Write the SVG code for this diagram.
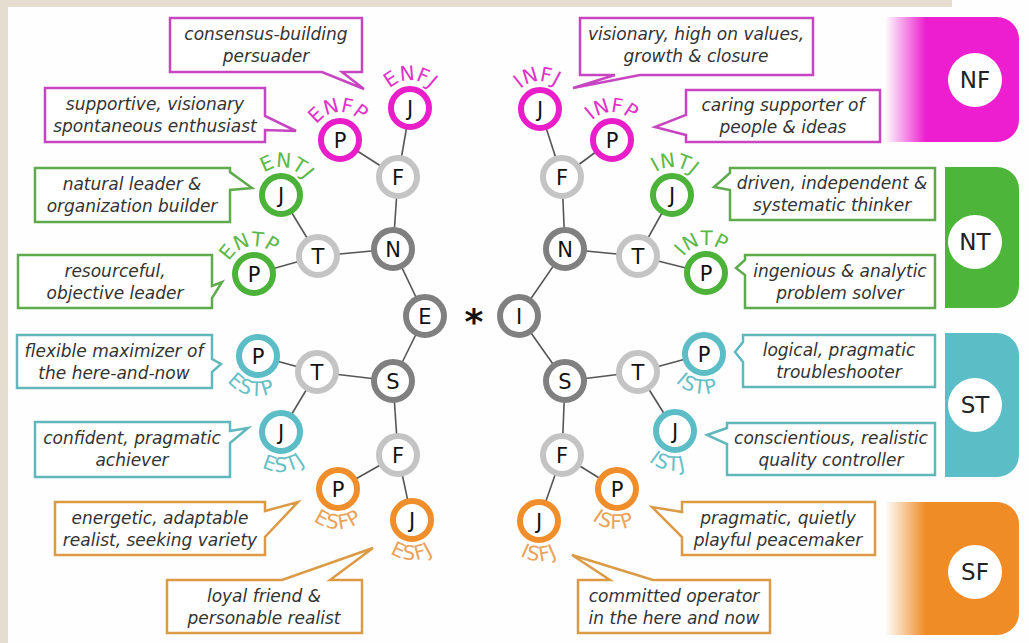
<svg xmlns="http://www.w3.org/2000/svg" xmlns:xlink="http://www.w3.org/1999/xlink" width="1029" height="643" viewBox="0 0 1029 643">
<style>
.bg{fill:#fefefe}
.strip{fill:#e4ddd0}
.link{stroke:#555;stroke-width:1.6;fill:none}
.nd{fill:#fff;stroke-width:6}
.dk{stroke:#808080}.lt{stroke:#c4c4c4}
.mg{stroke:#e91ec8}.gn{stroke:#4cb23a}.tl{stroke:#5cbdc6}.or{stroke:#ef8e2a}
.lt-txt{font-family:"DejaVu Sans",sans-serif;font-size:21px;fill:#111;text-anchor:middle}
.co{fill:#fff;stroke-width:2.5}
.cmg{stroke:#c845c2}.cgn{stroke:#5eaa4c}.ctl{stroke:#60b8bd}.cor{stroke:#dc9a45}
.ct{font-family:"DejaVu Sans",sans-serif;font-style:italic;font-size:17px;fill:#333;text-anchor:middle}
.lab{font-family:"DejaVu Sans",sans-serif;font-size:20px;text-anchor:middle}
.lab.bot{letter-spacing:1px}
.lmg{fill:#e033c8}.lgn{fill:#5cb848}.ltl{fill:#66c0c6}.lor{fill:#eaa25a}
.bt{font-family:"DejaVu Sans",sans-serif;font-size:23px;fill:#222;text-anchor:middle}
</style>
<defs>
<linearGradient id="gNF" gradientUnits="userSpaceOnUse" x1="885" y1="0" x2="926" y2="0"><stop offset="0" stop-color="#ec1ecf" stop-opacity="0"/><stop offset="1" stop-color="#ec1ecf"/></linearGradient>
<linearGradient id="gSF" gradientUnits="userSpaceOnUse" x1="885" y1="0" x2="926" y2="0"><stop offset="0" stop-color="#f08c25" stop-opacity="0"/><stop offset="1" stop-color="#f08c25"/></linearGradient>
<path id="aENFJ" d="M383,100.8 A28 28 0 0 1 437,100.8"/>
<path id="aENFP" d="M313,132.8 A28 28 0 0 1 367,132.8"/>
<path id="aENTJ" d="M254,187.8 A28 28 0 0 1 308,187.8"/>
<path id="aENTP" d="M227,266.8 A28 28 0 0 1 281,266.8"/>
<path id="aINFJ" d="M513,101.8 A28 28 0 0 1 567,101.8"/>
<path id="aINFP" d="M585,132.8 A28 28 0 0 1 639,132.8"/>
<path id="aINTJ" d="M645,187.8 A28 28 0 0 1 699,187.8"/>
<path id="aINTP" d="M679,265.8 A28 28 0 0 1 733,265.8"/>
<path id="aESTP" d="M219.4,366.4 A40 40 0 0 0 296.6,366.4"/>
<path id="aESTJ" d="M242.4,442.4 A40 40 0 0 0 319.6,442.4"/>
<path id="aESFP" d="M299.4,499.4 A40 40 0 0 0 376.6,499.4"/>
<path id="aESFJ" d="M373.4,530.4 A40 40 0 0 0 450.6,530.4"/>
<path id="aISTP" d="M665.4,364.4 A40 40 0 0 0 742.6,364.4"/>
<path id="aISTJ" d="M636.4,441.4 A40 40 0 0 0 713.6,441.4"/>
<path id="aISFP" d="M578.4,499.4 A40 40 0 0 0 655.6,499.4"/>
<path id="aISFJ" d="M500.4,531.4 A40 40 0 0 0 577.6,531.4"/>
</defs>
<rect class="bg" x="0" y="0" width="1029" height="643"/>
<rect class="strip" x="0" y="0" width="952" height="7"/>
<rect class="strip" x="0" y="0" width="8" height="643"/>

<g id="bars">
<g id="bar-NF"><path d="M885,17 H997 A22 22 0 0 1 1019,39 V120 A22 22 0 0 1 997,142 H885 Z" fill="url(#gNF)"/><circle cx="975" cy="80" r="27" fill="#fff"/><text class="bt" x="975" y="88">NF</text></g>
<g id="bar-NT"><path d="M945,167 H997 A22 22 0 0 1 1019,189 V286 A22 22 0 0 1 997,308 H945 Z" fill="#4cb53a"/><circle cx="975" cy="242" r="27" fill="#fff"/><text class="bt" x="975" y="250">NT</text></g>
<g id="bar-ST"><path d="M945,333 H997 A22 22 0 0 1 1019,355 V455 A22 22 0 0 1 997,477 H945 Z" fill="#5bbdc6"/><circle cx="975" cy="405" r="27" fill="#fff"/><text class="bt" x="975" y="413">ST</text></g>
<g id="bar-SF"><path d="M885,502 H997 A22 22 0 0 1 1019,524 V613 A22 22 0 0 1 997,635 H885 Z" fill="url(#gSF)"/><circle cx="975" cy="572" r="27" fill="#fff"/><text class="bt" x="975" y="580">SF</text></g>
</g>

<g id="connectors">
<line class="link" x1="425" y1="316" x2="393" y2="249"/>
<line class="link" x1="393" y1="249" x2="398" y2="177"/>
<line class="link" x1="398" y1="177" x2="340" y2="140"/>
<line class="link" x1="398" y1="177" x2="410" y2="108"/>
<line class="link" x1="393" y1="249" x2="318" y2="256"/>
<line class="link" x1="318" y1="256" x2="281" y2="195"/>
<line class="link" x1="318" y1="256" x2="254" y2="274"/>
<line class="link" x1="425" y1="316" x2="393" y2="381"/>
<line class="link" x1="393" y1="381" x2="317" y2="372"/>
<line class="link" x1="317" y1="372" x2="258" y2="356"/>
<line class="link" x1="317" y1="372" x2="281" y2="432"/>
<line class="link" x1="393" y1="381" x2="398" y2="455"/>
<line class="link" x1="398" y1="455" x2="338" y2="489"/>
<line class="link" x1="398" y1="455" x2="412" y2="520"/>
<line class="link" x1="519" y1="316" x2="565" y2="249"/>
<line class="link" x1="565" y1="249" x2="562" y2="177"/>
<line class="link" x1="562" y1="177" x2="540" y2="109"/>
<line class="link" x1="562" y1="177" x2="612" y2="140"/>
<line class="link" x1="565" y1="249" x2="638" y2="256"/>
<line class="link" x1="638" y1="256" x2="672" y2="195"/>
<line class="link" x1="638" y1="256" x2="706" y2="273"/>
<line class="link" x1="519" y1="316" x2="565" y2="381"/>
<line class="link" x1="565" y1="381" x2="638" y2="372"/>
<line class="link" x1="638" y1="372" x2="704" y2="354"/>
<line class="link" x1="638" y1="372" x2="675" y2="431"/>
<line class="link" x1="565" y1="381" x2="562" y2="455"/>
<line class="link" x1="562" y1="455" x2="617" y2="489"/>
<line class="link" x1="562" y1="455" x2="539" y2="521"/>
</g>

<g id="center-star"><text x="474" y="334" font-family="DejaVu Sans,sans-serif" font-size="36" font-weight="bold" fill="#111" text-anchor="middle">*</text></g>

<g id="node-E"><circle class="nd dk" cx="425" cy="316" r="19"/><text class="lt-txt" x="425" y="323.5">E</text></g>
<g id="node-I"><circle class="nd dk" cx="519" cy="316" r="19"/><text class="lt-txt" x="519" y="323.5">I</text></g>
<g id="node-EN"><circle class="nd dk" cx="393" cy="249" r="19"/><text class="lt-txt" x="393" y="256.5">N</text></g>
<g id="node-ES"><circle class="nd dk" cx="393" cy="381" r="19"/><text class="lt-txt" x="393" y="388.5">S</text></g>
<g id="node-IN"><circle class="nd dk" cx="565" cy="249" r="19"/><text class="lt-txt" x="565" y="256.5">N</text></g>
<g id="node-IS"><circle class="nd dk" cx="565" cy="381" r="19"/><text class="lt-txt" x="565" y="388.5">S</text></g>
<g id="node-ENF"><circle class="nd lt" cx="398" cy="177" r="19"/><text class="lt-txt" x="398" y="184.5">F</text></g>
<g id="node-ENT"><circle class="nd lt" cx="318" cy="256" r="19"/><text class="lt-txt" x="318" y="263.5">T</text></g>
<g id="node-EST"><circle class="nd lt" cx="317" cy="372" r="19"/><text class="lt-txt" x="317" y="379.5">T</text></g>
<g id="node-ESF"><circle class="nd lt" cx="398" cy="455" r="19"/><text class="lt-txt" x="398" y="462.5">F</text></g>
<g id="node-INF"><circle class="nd lt" cx="562" cy="177" r="19"/><text class="lt-txt" x="562" y="184.5">F</text></g>
<g id="node-INT"><circle class="nd lt" cx="638" cy="256" r="19"/><text class="lt-txt" x="638" y="263.5">T</text></g>
<g id="node-IST"><circle class="nd lt" cx="638" cy="372" r="19"/><text class="lt-txt" x="638" y="379.5">T</text></g>
<g id="node-ISF"><circle class="nd lt" cx="562" cy="455" r="19"/><text class="lt-txt" x="562" y="462.5">F</text></g>

<g id="node-ENFJ"><circle class="nd mg" cx="410" cy="108" r="19"/><text class="lt-txt" x="410" y="115.5">J</text><text class="lab lmg"><textPath xlink:href="#aENFJ" href="#aENFJ" startOffset="50%">ENFJ</textPath></text></g>
<g id="node-ENFP"><circle class="nd mg" cx="340" cy="140" r="19"/><text class="lt-txt" x="340" y="147.5">P</text><text class="lab lmg" transform="rotate(-4 340 140)"><textPath xlink:href="#aENFP" href="#aENFP" startOffset="50%">ENFP</textPath></text></g>
<g id="node-ENTJ"><circle class="nd gn" cx="281" cy="195" r="19"/><text class="lt-txt" x="281" y="202.5">J</text><text class="lab lgn" transform="rotate(10 281 195)"><textPath xlink:href="#aENTJ" href="#aENTJ" startOffset="50%">ENTJ</textPath></text></g>
<g id="node-ENTP"><circle class="nd gn" cx="254" cy="274" r="19"/><text class="lt-txt" x="254" y="281.5">P</text><text class="lab lgn" transform="rotate(-10 254 274)"><textPath xlink:href="#aENTP" href="#aENTP" startOffset="50%">ENTP</textPath></text></g>
<g id="node-ESTP"><circle class="nd tl" cx="258" cy="356" r="19"/><text class="lt-txt" x="258" y="363.5">P</text><text class="lab bot ltl" transform="rotate(12 258 356)"><textPath xlink:href="#aESTP" href="#aESTP" startOffset="50%">ESTP</textPath></text></g>
<g id="node-ESTJ"><circle class="nd tl" cx="281" cy="432" r="19"/><text class="lt-txt" x="281" y="439.5">J</text><text class="lab bot ltl" transform="rotate(-5 281 432)"><textPath xlink:href="#aESTJ" href="#aESTJ" startOffset="50%">ESTJ</textPath></text></g>
<g id="node-ESFP"><circle class="nd or" cx="338" cy="489" r="19"/><text class="lt-txt" x="338" y="496.5">P</text><text class="lab bot lor"><textPath xlink:href="#aESFP" href="#aESFP" startOffset="50%">ESFP</textPath></text></g>
<g id="node-ESFJ"><circle class="nd or" cx="412" cy="520" r="19"/><text class="lt-txt" x="412" y="527.5">J</text><text class="lab bot lor"><textPath xlink:href="#aESFJ" href="#aESFJ" startOffset="50%">ESFJ</textPath></text></g>
<g id="node-INFJ"><circle class="nd mg" cx="540" cy="109" r="19"/><text class="lt-txt" x="540" y="116.5">J</text><text class="lab lmg" transform="rotate(-5 540 109)"><textPath xlink:href="#aINFJ" href="#aINFJ" startOffset="50%">INFJ</textPath></text></g>
<g id="node-INFP"><circle class="nd mg" cx="612" cy="140" r="19"/><text class="lt-txt" x="612" y="147.5">P</text><text class="lab lmg"><textPath xlink:href="#aINFP" href="#aINFP" startOffset="50%">INFP</textPath></text></g>
<g id="node-INTJ"><circle class="nd gn" cx="672" cy="195" r="19"/><text class="lt-txt" x="672" y="202.5">J</text><text class="lab lgn" transform="rotate(5 672 195)"><textPath xlink:href="#aINTJ" href="#aINTJ" startOffset="50%">INTJ</textPath></text></g>
<g id="node-INTP"><circle class="nd gn" cx="706" cy="273" r="19"/><text class="lt-txt" x="706" y="280.5">P</text><text class="lab lgn" transform="rotate(-8 706 273)"><textPath xlink:href="#aINTP" href="#aINTP" startOffset="50%">INTP</textPath></text></g>
<g id="node-ISTP"><circle class="nd tl" cx="704" cy="354" r="19"/><text class="lt-txt" x="704" y="361.5">P</text><text class="lab bot ltl" transform="rotate(12 704 354)"><textPath xlink:href="#aISTP" href="#aISTP" startOffset="50%">ISTP</textPath></text></g>
<g id="node-ISTJ"><circle class="nd tl" cx="675" cy="431" r="19"/><text class="lt-txt" x="675" y="438.5">J</text><text class="lab bot ltl" transform="rotate(12 675 431)"><textPath xlink:href="#aISTJ" href="#aISTJ" startOffset="50%">ISTJ</textPath></text></g>
<g id="node-ISFP"><circle class="nd or" cx="617" cy="489" r="19"/><text class="lt-txt" x="617" y="496.5">P</text><text class="lab bot lor" transform="rotate(6 617 489)"><textPath xlink:href="#aISFP" href="#aISFP" startOffset="50%">ISFP</textPath></text></g>
<g id="node-ISFJ"><circle class="nd or" cx="539" cy="521" r="19"/><text class="lt-txt" x="539" y="528.5">J</text><text class="lab bot lor"><textPath xlink:href="#aISFJ" href="#aISFJ" startOffset="50%">ISFJ</textPath></text></g>

<g id="callout-ENFJ"><path class="co cmg" d="M170,18 H362 V72 H342 L364,89 L322,72 H170 Z"/><text class="ct" x="266" y="40">consensus-building</text><text class="ct" x="266" y="62">persuader</text></g>
<g id="callout-ENFP"><path class="co cmg" d="M45,88 H265 V116 L296,131 L265,130 V142 H45 Z"/><text class="ct" x="155" y="110">supportive, visionary</text><text class="ct" x="155" y="132">spontaneous enthusiast</text></g>
<g id="callout-ENTJ"><path class="co cgn" d="M35,168 H230 V172 L252,188 L230,190 V222 H35 Z"/><text class="ct" x="132" y="190">natural leader &amp;</text><text class="ct" x="132" y="212">organization builder</text></g>
<g id="callout-ENTP"><path class="co cgn" d="M18,255 H212 V286 L222,282 L212,298 V308 H18 Z"/><text class="ct" x="115" y="277">resourceful,</text><text class="ct" x="115" y="299">objective leader</text></g>
<g id="callout-ESTP"><path class="co ctl" d="M17,335 H212 V359 L221,364 L212,372 V388 H17 Z"/><text class="ct" x="114" y="357">flexible maximizer of</text><text class="ct" x="114" y="379">the here-and-now</text></g>
<g id="callout-ESTJ"><path class="co ctl" d="M35,422 H230 V431 L248,428 L230,443 V477 H35 Z"/><text class="ct" x="132" y="444">confident, pragmatic</text><text class="ct" x="132" y="466">achiever</text></g>
<g id="callout-ESFP"><path class="co cor" d="M55,502 H265 V511 L298,502 L265,537 V555 H55 Z"/><text class="ct" x="160" y="524">energetic, adaptable</text><text class="ct" x="160" y="546">realist, seeking variety</text></g>
<g id="callout-ESFJ"><path class="co cor" d="M167,580 H282 L373,548 L330,580 H362 V633 H167 Z"/><text class="ct" x="264" y="602">loyal friend &amp;</text><text class="ct" x="264" y="624">personable realist</text></g>
<g id="callout-INFJ"><path class="co cmg" d="M580,18 H813 V75 H640 L573,88 L615,75 H580 Z"/><text class="ct" x="696" y="40">visionary, high on values,</text><text class="ct" x="696" y="62">growth &amp; closure</text></g>
<g id="callout-INFP"><path class="co cmg" d="M686,90 H880 V142 H686 V135 L655,127 L686,115 Z"/><text class="ct" x="783" y="111">caring supporter of</text><text class="ct" x="783" y="133">people &amp; ideas</text></g>
<g id="callout-INTJ"><path class="co cgn" d="M730,168 H935 V220 H730 V190 L714,187 L730,173 Z"/><text class="ct" x="832" y="189">driven, independent &amp;</text><text class="ct" x="832" y="211">systematic thinker</text></g>
<g id="callout-INTP"><path class="co cgn" d="M745,255 H935 V308 H745 V275 L736,268 L745,260 Z"/><text class="ct" x="840" y="277">ingenious &amp; analytic</text><text class="ct" x="840" y="299">problem solver</text></g>
<g id="callout-ISTP"><path class="co ctl" d="M743,335 H935 V387 H743 V362 L735,352 L743,342 Z"/><text class="ct" x="839" y="356">logical, pragmatic</text><text class="ct" x="839" y="378">troubleshooter</text></g>
<g id="callout-ISTJ"><path class="co ctl" d="M727,423 H935 V475 H727 V444 L707,435 L727,428 Z"/><text class="ct" x="831" y="444">conscientious, realistic</text><text class="ct" x="831" y="466">quality controller</text></g>
<g id="callout-ISFP"><path class="co cor" d="M682,502 H875 V555 H682 V537 L652,507 L682,512 Z"/><text class="ct" x="778" y="524">pragmatic, quietly</text><text class="ct" x="778" y="546">playful peacemaker</text></g>
<g id="callout-ISFJ"><path class="co cor" d="M578,580 H610 L572,555 L653,580 H770 V633 H578 Z"/><text class="ct" x="674" y="602">committed operator</text><text class="ct" x="674" y="624">in the here and now</text></g>
</svg>
